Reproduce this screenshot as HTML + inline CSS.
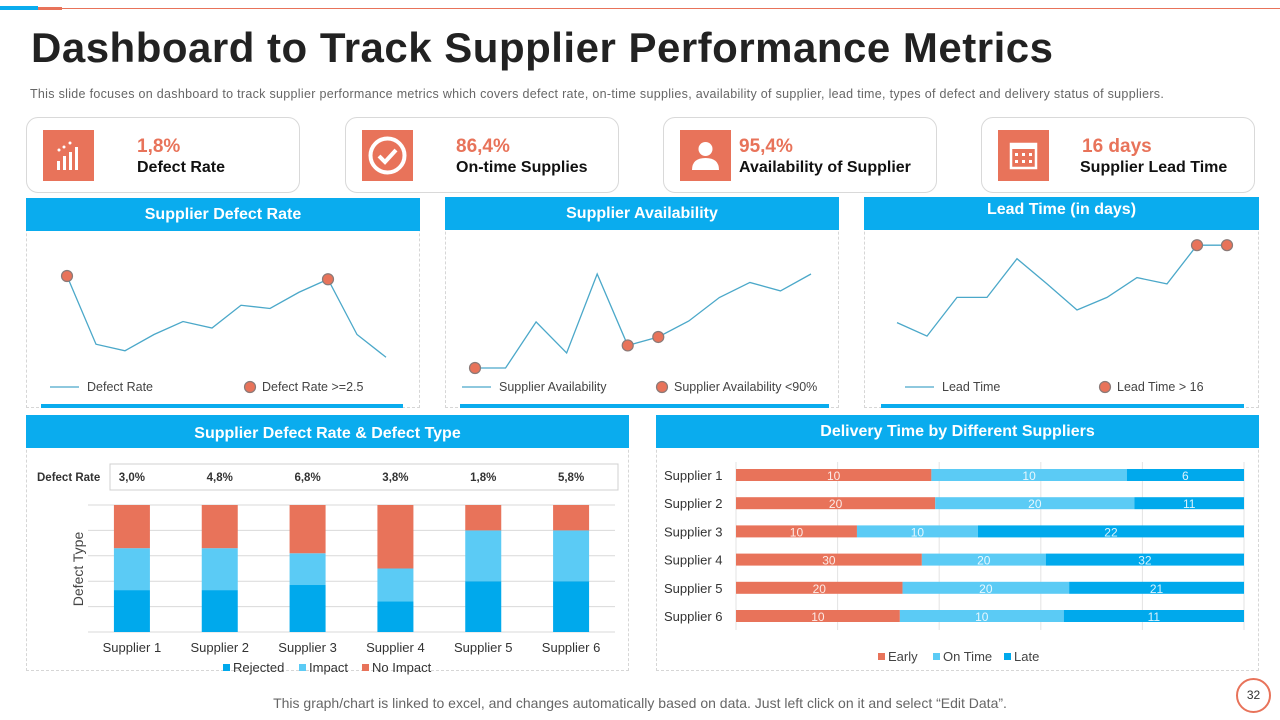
<!DOCTYPE html>
<html><head><meta charset="utf-8">
<style>
*{margin:0;padding:0;box-sizing:border-box}
body{width:1280px;height:720px;background:#fff;font-family:"Liberation Sans",sans-serif;position:relative;overflow:hidden}
.abs{position:absolute}
.card{position:absolute;top:117px;width:274px;height:76px;border:1px solid #d9d9d9;border-radius:12px;background:#fff}
.icon{position:absolute;left:16px;top:12px;width:51px;height:51px;background:#E8735A}
.kv{position:absolute;left:110px;top:18px;color:#E8735A;font-weight:bold;font-size:19px}
.kl{position:absolute;left:110px;top:41px;color:#111;font-weight:bold;font-size:16px}
.panel{position:absolute;border:1px dashed #d6d6d6}
.hdr{position:absolute;background:#0AACEE;color:#fff;font-weight:bold;font-size:16px;text-align:center}
</style></head><body>
<div class="abs" style="left:0;top:6px;width:38px;height:4px;background:#0AACEE"></div>
<div class="abs" style="left:38px;top:8px;width:1242px;height:1px;background:#E8735A"></div>
<div class="abs" style="left:38px;top:7px;width:24px;height:3px;background:#E8735A"></div>
<div class="abs" style="left:31px;top:24px;font-size:42px;font-weight:bold;color:#222;letter-spacing:0.5px">Dashboard to Track Supplier Performance Metrics</div>
<div class="abs" style="left:30px;top:87px;font-size:12.5px;letter-spacing:0.3px;color:#666">This slide focuses on dashboard  to track supplier performance  metrics which covers defect rate, on-time supplies, availability of supplier, lead time, types of defect and delivery  status of suppliers.</div>

<div class="card" style="left:26px">
 <div class="icon"><svg width="51" height="51"><g fill="#fff"><rect x="14" y="31" width="3" height="9"/><rect x="20" y="26" width="3" height="14"/><rect x="26" y="22" width="3" height="18"/><rect x="32" y="17" width="3" height="23"/><circle cx="16" cy="20" r="1.5"/><circle cx="21" cy="17" r="1.5"/><circle cx="27" cy="13" r="1.5"/></g></svg></div>
 <div class="kv">1,8%</div><div class="kl">Defect Rate</div></div>
<div class="card" style="left:345px">
 <div class="icon"><svg width="51" height="51"><circle cx="25.5" cy="25.5" r="17" fill="none" stroke="#fff" stroke-width="4"/><path d="M17 26l6 6 11-12" fill="none" stroke="#fff" stroke-width="4"/></svg></div>
 <div class="kv">86,4%</div><div class="kl">On-time  Supplies</div></div>
<div class="card" style="left:663px">
 <div class="icon"><svg width="51" height="51"><circle cx="25.5" cy="19" r="7" fill="#fff"/><path d="M12 40q0-12 13.5-12t13.5 12z" fill="#fff"/></svg></div>
 <div class="kv" style="left:75px">95,4%</div><div class="kl" style="left:75px">Availability  of Supplier</div></div>
<div class="card" style="left:981px">
 <div class="icon"><svg width="51" height="51"><rect x="13" y="14" width="25" height="24" fill="none" stroke="#fff" stroke-width="2.5"/><rect x="13" y="14" width="25" height="5" fill="#fff"/><g fill="#fff"><rect x="17" y="23" width="3" height="3"/><rect x="24" y="23" width="3" height="3"/><rect x="31" y="23" width="3" height="3"/><rect x="17" y="30" width="3" height="3"/><rect x="24" y="30" width="3" height="3"/><rect x="31" y="30" width="3" height="3"/></g></svg></div>
 <div class="kv" style="left:100px">16 days</div><div class="kl" style="left:98px">Supplier Lead Time</div></div>

<div class="panel" style="left:26px;top:198px;width:394px;height:210px"></div>
<div class="hdr" style="left:26px;top:198px;width:394px;height:33px;line-height:33px">Supplier Defect Rate</div>
<div class="panel" style="left:445px;top:197px;width:394px;height:211px"></div>
<div class="hdr" style="left:445px;top:197px;width:394px;height:33px;line-height:33px">Supplier Availability</div>
<div class="panel" style="left:864px;top:197px;width:395px;height:211px"></div>
<div class="hdr" style="left:864px;top:197px;width:395px;height:33px;line-height:26px">Lead Time (in days)</div>
<div class="abs" style="left:41px;top:404px;width:362px;height:4px;background:#0AACEE"></div>
<div class="abs" style="left:460px;top:404px;width:369px;height:4px;background:#0AACEE"></div>
<div class="abs" style="left:881px;top:404px;width:363px;height:4px;background:#0AACEE"></div>

<div class="panel" style="left:26px;top:415px;width:603px;height:256px"></div>
<div class="hdr" style="left:26px;top:415px;width:603px;height:33px;line-height:38px">Supplier Defect Rate &amp; Defect Type</div>
<div class="panel" style="left:656px;top:415px;width:603px;height:256px"></div>
<div class="hdr" style="left:656px;top:415px;width:603px;height:33px;line-height:33px">Delivery Time by Different Suppliers</div>

<svg id="chart" class="abs" style="left:0;top:0" width="1280" height="720" font-family="Liberation Sans, sans-serif"></svg>

<div class="abs" style="left:0;width:1280px;top:695px;text-align:center;font-size:14px;color:#666">This graph/chart is linked to excel,  and changes automatically based on data. Just left click on it and select “Edit Data”.</div>
<div class="abs" style="left:1236px;top:678px;width:35px;height:35px;border:2px solid #E8735A;border-radius:50%;text-align:center;line-height:31px;font-size:12px;color:#333">32</div>

<script>
// Line chart data
const defectRate = [3.2,1.1,0.9,1.4,1.8,1.6,2.3,2.2,2.7,3.1,1.4,0.7];
const defectMarkers = [3.2,null,null,null,null,null,null,null,null,3.1,null,null];
const availability = [85,85,89.9,86.6,95,87.4,88.3,90,92.5,94.1,93.2,95];
const availMarkers = [85,null,null,null,null,87.4,88.3,null,null,null,null,null];
const leadTime = [8.6,7.1,11.4,11.4,15.7,12.9,10,11.4,13.6,12.9,17.2,17.2];
const leadMarkers = [null,null,null,null,null,null,null,null,null,null,17.2,17.2];
// Stacked column data (percent)
const suppliers = ["Supplier 1","Supplier 2","Supplier 3","Supplier 4","Supplier 5","Supplier 6"];
const defectRateLabels = ["3,0%","4,8%","6,8%","3,8%","1,8%","5,8%"];
const rejected = [33,33,37,24,40,40];
const impact = [33,33,25,26,40,40];
const noImpact = [34,34,38,50,20,20];
// Delivery data
const early = [10,20,10,30,20,10];
const onTime = [10,20,10,20,20,10];
const late = [6,11,22,32,21,11];

const svg = document.getElementById('chart');
const NS='http://www.w3.org/2000/svg';
function mk(tag, attrs, parent){const e=document.createElementNS(NS,tag);for(const k in attrs)e.setAttribute(k,attrs[k]);(parent||svg).appendChild(e);return e;}
function txt(x,y,s,attrs){const t=mk('text',Object.assign({x:x,y:y},attrs||{}));t.textContent=s;return t;}

function lineChart(vals, marks, x0, x1, yFn, name){
  const xs = i => x0 + i*(x1-x0)/(vals.length-1);
  const pts = vals.map((v,i)=>xs(i)+','+yFn(v)).join(' ');
  const l = mk('polyline',{points:pts,fill:'none',stroke:'#4BA8C9','stroke-width':1.3});
  
  
  marks.forEach((v,i)=>{ if(v===null) return;
    const c = mk('circle',{cx:xs(i),cy:yFn(v),r:5.5,fill:'#E8735A',stroke:'#8a7a78','stroke-width':1.2});
    
    
  });
}
lineChart(defectRate, defectMarkers, 67, 386, v=>380-v*32.5, 'defect-rate');
lineChart(availability, availMarkers, 475, 811, v=>274+(95-v)*9.4, 'availability');
lineChart(leadTime, leadMarkers, 897, 1227, v=>400-v*9, 'lead-time');

function lineLegend(x, label1, x2, label2, name){
  mk('line',{x1:x,y1:387,x2:x+29,y2:387,stroke:'#4BA8C9','stroke-width':1.3});
  const a=txt(x+37,391,label1,{'font-size':12.5,fill:'#444'});
  
  
  mk('circle',{cx:x2,cy:387,r:5.5,fill:'#E8735A',stroke:'#8a7a78','stroke-width':1.2});
  const b=txt(x2+12,391,label2,{'font-size':12.5,fill:'#444'});
  
  
}
lineLegend(50,'Defect Rate',250,'Defect Rate >=2.5','defect-rate');
lineLegend(462,'Supplier Availability',662,'Supplier Availability <90%','availability');
lineLegend(905,'Lead Time',1105,'Lead Time > 16','lead-time');

// Stacked columns
const cTop=505, cBot=632, pL=88, pR=615;
const yC = p => cBot - p*(cBot-cTop)/100;
for(let g=0; g<=100; g+=20){ mk('line',{x1:pL,x2:pR,y1:yC(g),y2:yC(g),stroke:'#d9d9d9','stroke-width':1}); }
mk('rect',{x:110,y:464,width:508,height:26,fill:'none',stroke:'#d0d0d0'});
const dl=txt(37,481,'Defect Rate',{'font-size':11.5,'font-weight':'bold',fill:'#333'});


const band=(pR-pL)/suppliers.length;
suppliers.forEach((s,i)=>{
  const cx=pL+band*(i+0.5), w=36;
  let base=0;
  [[rejected,'#00A9EC','rejected'],[impact,'#5BCBF5','impact'],[noImpact,'#E8735A','no-impact']].forEach(([arr,col,nm])=>{
    const r=mk('rect',{x:cx-w/2,y:yC(base+arr[i]),width:w,height:yC(base)-yC(base+arr[i]),fill:col});
    
    
    base+=arr[i];
  });
  const t=txt(cx,652,s,{'font-size':13,fill:'#333','text-anchor':'middle'});
  
  
  const d=txt(cx,481,defectRateLabels[i],{'font-size':11.5,'font-weight':'bold',fill:'#333','text-anchor':'middle'});
  
  
});
const yt=txt(0,0,'Defect Type',{'font-size':14,fill:'#444','text-anchor':'middle',transform:'translate(83,569) rotate(-90)'});


[['Rejected','#00A9EC',223],['Impact','#5BCBF5',299],['No Impact','#E8735A',362]].forEach(([l,c,x])=>{
  mk('rect',{x:x,y:664,width:7,height:7,fill:c});
  const t=txt(x+10,672,l,{'font-size':13,fill:'#333'});
  
  
});

// Horizontal stacked bars
const hL=736, hR=1244, rowY0=475, rowStep=28.2;
for(let g=0; g<=5; g++){ const x=hL+g*(hR-hL)/5; mk('line',{x1:x,x2:x,y1:462,y2:630,stroke:'#e3e3e3'}); }
suppliers.forEach((s,i)=>{
  const cy=rowY0+i*rowStep, tot=early[i]+onTime[i]+late[i];
  const xs=v=>hL+v/tot*(hR-hL);
  let base=0;
  [[early,'#E8735A','early'],[onTime,'#5BCBF5','on-time'],[late,'#00A9EC','late']].forEach(([arr,col,nm])=>{
    const r=mk('rect',{x:xs(base),y:cy-6,width:xs(base+arr[i])-xs(base),height:12,fill:col});
    
    
    const t=txt((xs(base)+xs(base+arr[i]))/2,cy+5,String(arr[i]),{'font-size':12,fill:'#fff','text-anchor':'middle','fill-opacity':0.85});
    
    
    base+=arr[i];
  });
  const l=txt(664,cy+5,s,{'font-size':13,fill:'#333'});
  
  
});
[['Early','#E8735A',878],['On Time','#5BCBF5',933],['Late','#00A9EC',1004]].forEach(([l,c,x])=>{
  mk('rect',{x:x,y:653,width:7,height:7,fill:c});
  const t=txt(x+10,661,l,{'font-size':13,fill:'#444'});
  
  
});
</script>
</body></html>
